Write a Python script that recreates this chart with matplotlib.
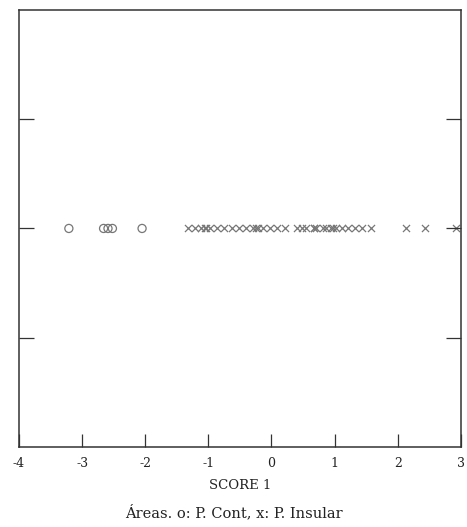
import numpy as np
import matplotlib.pyplot as plt

# scores on axis 1, by area
cont = [-3.21, -2.66, -2.59, -2.52, -2.05]
insular = [-1.33, -1.21, -1.11, -1.06, -1.03, -0.97, -0.86, -0.75, -0.63,
           -0.52, -0.41, -0.30, -0.24, -0.21, -0.13, -0.02, 0.08, 0.22,
           0.40, 0.49, 0.54, 0.67, 0.68, 0.71, 0.81, 0.87, 0.94, 0.98,
           1.03, 1.11, 1.22, 1.33, 1.44, 1.57, 2.13, 2.43, 2.92]
xticks = [-4, -3, -2, -1, 0, 1, 2, 3]
yticks = [-1, 0, 1]

plt.rcParams['font.family'] = ['DejaVu Serif']
fig = plt.figure(figsize=(4.67, 5.27), dpi=100)
ax = fig.add_axes([0.0407, 0.152, 0.946, 0.829])

ax.scatter(cont, np.zeros(len(cont)), marker='o', s=34, facecolors='none',
           edgecolors='#777777', linewidths=0.9)
ax.scatter(insular, np.zeros(len(insular)), marker='x', s=26,
           color='#777777', linewidths=0.9)

ax.set_xlim(-4, 3)
ax.set_ylim(-2, 2)
ax.set_xticks(xticks)
ax.set_xticklabels([str(t) for t in xticks], fontsize=9, color='#222222')
ax.set_yticks(yticks)
ax.set_yticklabels([])
ax.tick_params(axis='x', direction='in', length=9.4, width=0.9, color='#333333', pad=7.5)
ax.tick_params(axis='y', direction='in', length=10.5, width=0.9, color='#333333',
               left=True, right=True)
for s in ax.spines.values():
    s.set_color('#333333')
    s.set_linewidth(1.1)

ax.set_xlabel('SCORE 1', fontsize=9.5, color='#222222', labelpad=6)
fig.text(0.5, 0.018, 'Áreas. o: P. Cont, x: P. Insular', ha='center',
         fontsize=10.5, color='#222222')

fig.savefig('out.png', dpi=100)
